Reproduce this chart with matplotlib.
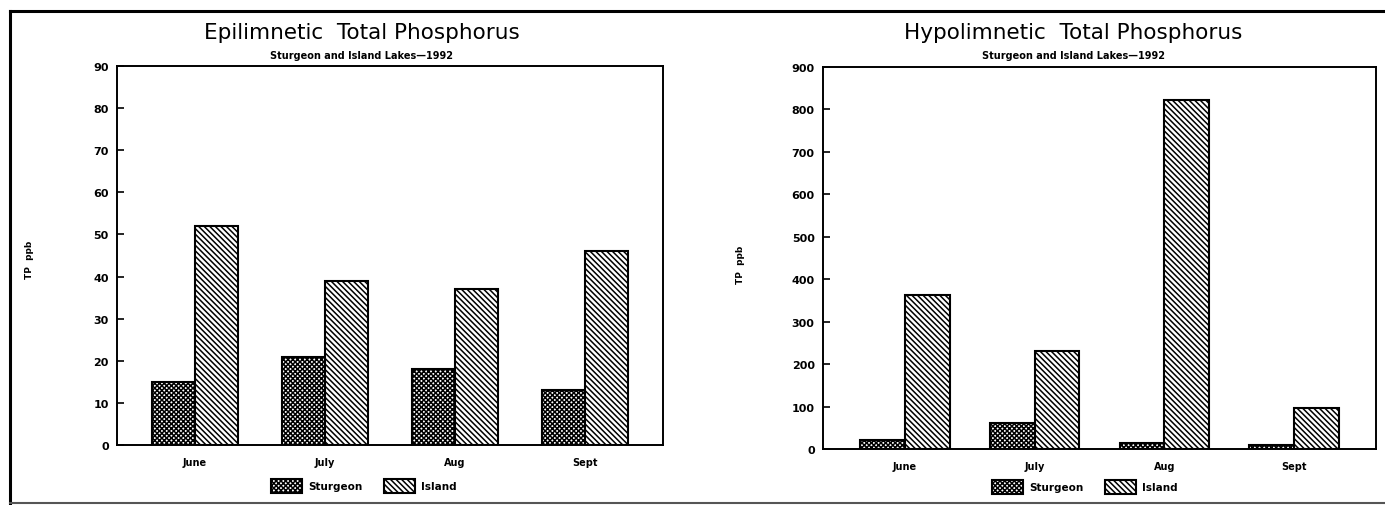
import matplotlib
matplotlib.use("Agg")
import matplotlib.pyplot as plt
import numpy as np

#
# Data
#
months = ['June', 'July', 'Aug', 'Sept']
series_names = ['Sturgeon', 'Island']

epi_sturgeon = [15, 21, 18, 13]
epi_island = [52, 39, 37, 46]

hypo_sturgeon = [22, 62, 15, 10]
hypo_island = [362, 230, 822, 97]

epi_ticks = [0, 10, 20, 30, 40, 50, 60, 70, 80, 90]
hypo_ticks = [0, 100, 200, 300, 400, 500, 600, 700, 800, 900]

W, H = 1385.0, 506.0
plt.rcParams['hatch.linewidth'] = 1.1

fig = plt.figure(figsize=(W / 100, H / 100), dpi=100)


def px_axes(x0, y0, x1, y1):
    # pixel box (top-left origin) -> figure fraction
    return [x0 / W, 1 - y1 / H, (x1 - x0) / W, (y1 - y0) / H]


def draw_panel(ax, sturgeon, island, ticks, bar_w, xpad):
    x = np.arange(len(months))
    b1 = ax.bar(x - bar_w / 2, sturgeon, bar_w, facecolor='white', edgecolor='black',
                hatch='xxxxxxx', linewidth=1.5, label=series_names[0])
    b2 = ax.bar(x + bar_w / 2, island, bar_w, facecolor='white', edgecolor='black',
                hatch='\\\\\\\\\\\\', linewidth=1.5, label=series_names[1])
    ax.set_xlim(-xpad, len(months) - 1 + xpad)
    ax.set_ylim(ticks[0], ticks[-1])
    ax.set_yticks(ticks)
    ax.set_yticklabels([str(t) for t in ticks], fontsize=8, fontweight='bold')
    ax.set_xticks(x)
    ax.set_xticklabels(months, fontsize=7, fontweight='bold')
    ax.tick_params(axis='y', direction='in', length=5, width=1.2, pad=6)
    ax.tick_params(axis='x', length=0, pad=9)
    for s in ax.spines.values():
        s.set_linewidth(1.4)
    return b1, b2


def add_legend(ax, cx, cy):
    ax.legend(loc='center', bbox_to_anchor=(cx / W, 1 - cy / H), bbox_transform=fig.transFigure,
              ncol=2, frameon=False, handlelength=3.0, handleheight=1.8, columnspacing=2.0,
              handletextpad=0.6, prop={'size': 7.5, 'weight': 'bold'})


# Left panel: epilimnetic
ax1 = fig.add_axes(px_axes(117, 67, 663, 446))
draw_panel(ax1, epi_sturgeon, epi_island, epi_ticks, 0.33, 0.6)
fig.text(362 / W, 1 - 33 / H, 'Epilimnetic  Total Phosphorus', ha='center', va='center',
         fontsize=15.5)
fig.text(361 / W, 1 - 56 / H, 'Sturgeon and Island Lakes\u20141992', ha='center', va='center',
         fontsize=7, fontweight='bold')
fig.text(30 / W, 1 - 260 / H, 'TP  ppb', rotation=90, ha='center', va='center',
         fontsize=6.5, fontweight='bold')
add_legend(ax1, 364, 487)

# Right panel: hypolimnetic
ax2 = fig.add_axes(px_axes(823, 68, 1376, 450))
draw_panel(ax2, hypo_sturgeon, hypo_island, hypo_ticks, 0.345, 0.63)
fig.text(1073 / W, 1 - 33 / H, 'Hypolimnetic  Total Phosphorus', ha='center', va='center',
         fontsize=15.5)
fig.text(1073 / W, 1 - 56 / H, 'Sturgeon and Island Lakes\u20141992', ha='center', va='center',
         fontsize=7, fontweight='bold')
fig.text(740 / W, 1 - 265 / H, 'TP  ppb', rotation=90, ha='center', va='center',
         fontsize=6.5, fontweight='bold')
add_legend(ax2, 1085, 488)

# page border lines from the scan
fig.add_artist(plt.Line2D([10 / W, 1], [1 - 12 / H, 1 - 12 / H], color='black', lw=2.2))
fig.add_artist(plt.Line2D([10 / W, 10 / W], [1 - 12 / H, 0], color='black', lw=2.2))
fig.add_artist(plt.Line2D([10 / W, 1], [1 - 504 / H, 1 - 504 / H], color='#555555', lw=1.5))

fig.savefig('out.png', dpi=100)
